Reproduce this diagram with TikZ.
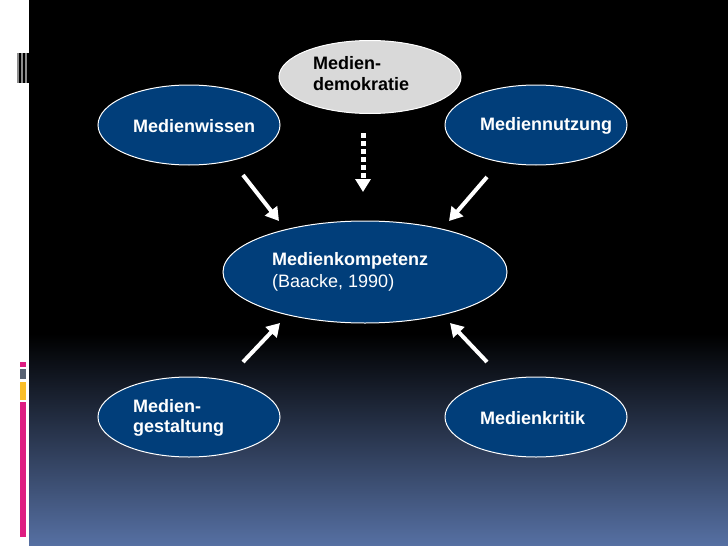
\documentclass[tikz,border=0pt]{standalone}
\usepackage{fontspec}
\setmainfont{Liberation Sans}
\usepackage{tikz}
\usetikzlibrary{calc,arrows.meta,positioning,shapes.geometric}
\definecolor{bubble}{RGB}{1,62,122}
\definecolor{greybub}{RGB}{217,217,217}
\definecolor{deepsky}{RGB}{86,112,163}
\definecolor{barpink}{RGB}{222,30,130}
\definecolor{bargrey}{RGB}{88,98,115}
\definecolor{baryel}{RGB}{250,190,40}

\begin{document}
\begin{tikzpicture}[
  x=1pt, y=-1pt,
  every node/.style={font=\fontsize{18}{21}\selectfont\bfseries},
  bub/.style={ellipse, draw=white, line width=1pt, fill=bubble,
              minimum width=182pt, minimum height=80pt, inner sep=0pt},
  greyb/.style={bub, fill=greybub, minimum height=73pt},
  txt/.style={anchor=west, align=left, text=white, inner sep=0pt},
  arw/.style={-{Triangle[length=13pt,width=15pt]}, white, line width=4pt},
  dotarw/.style={arw, line width=5pt, dash pattern=on 5pt off 3pt},
]
\useasboundingbox (0,0) rectangle (728,546);

% slide background
\fill[black] (29,0) rectangle (728,335);
\shade[top color=black, bottom color=deepsky] (29,334) rectangle (728,546);
\fill[white] (0,0) rectangle (29,546);
\fill[black!45] (17,53) rectangle (29,83);
\foreach \x in {19,23,27} \fill[black] (\x,53) rectangle (\x+2,83);
\fill[barpink] (20,362) rectangle (26,367);
\fill[bargrey] (20,369) rectangle (26,379);
\fill[baryel] (20,382) rectangle (26,400);
\fill[barpink] (20,402) rectangle (26,537);

% bubbles
\node[bub] (wissen) at (189,125) {};
\node[greyb] (demo) at (370,77) {};
\node[bub] (nutzung) at (536,125) {};
\node[bub, minimum width=284pt, minimum height=102pt] (komp) at (365,272) {};
\node[bub] (gestalt) at (189,417) {};
\node[bub] (kritik) at (536,417) {};

% texts
\node[txt] (wissen-t) at (133,126) {Medienwissen};
\node[txt, text=black] (demo-t) at (313,73.5) {Medien-\\demokratie};
\node[txt] (nutzung-t) at (480,126) {Mediennutzung};
\node[txt, font=\fontsize{18}{22}\selectfont] (komp-t) at (272,272)
  {\bfseries Medienkompetenz\\(Baacke, 1990)};
\node[txt, font=\fontsize{18}{20}\selectfont\bfseries] (gestalt-t) at (133,418)
  {Medien-\\gestaltung};
\node[txt] (kritik-t) at (480,418) {Medienkritik};

% arrow ends
\coordinate (wl) at (243,175);  \coordinate (kl) at (279,221);
\coordinate (dt) at (363,133);  \coordinate (kd) at (363,192);
\coordinate (nr) at (487,177);  \coordinate (kr) at (449,221);
\coordinate (gl) at (243,362);  \coordinate (kgl) at (280,323);
\coordinate (cr) at (487,362);  \coordinate (kcr) at (450,323);

\draw[arw] (wl) -- (kl);
\draw[dotarw] (dt) -- (kd);
\draw[arw] (nr) -- (kr);
\draw[arw] (gl) -- (kgl);
\draw[arw] (cr) -- (kcr);
\end{tikzpicture}
\end{document}
